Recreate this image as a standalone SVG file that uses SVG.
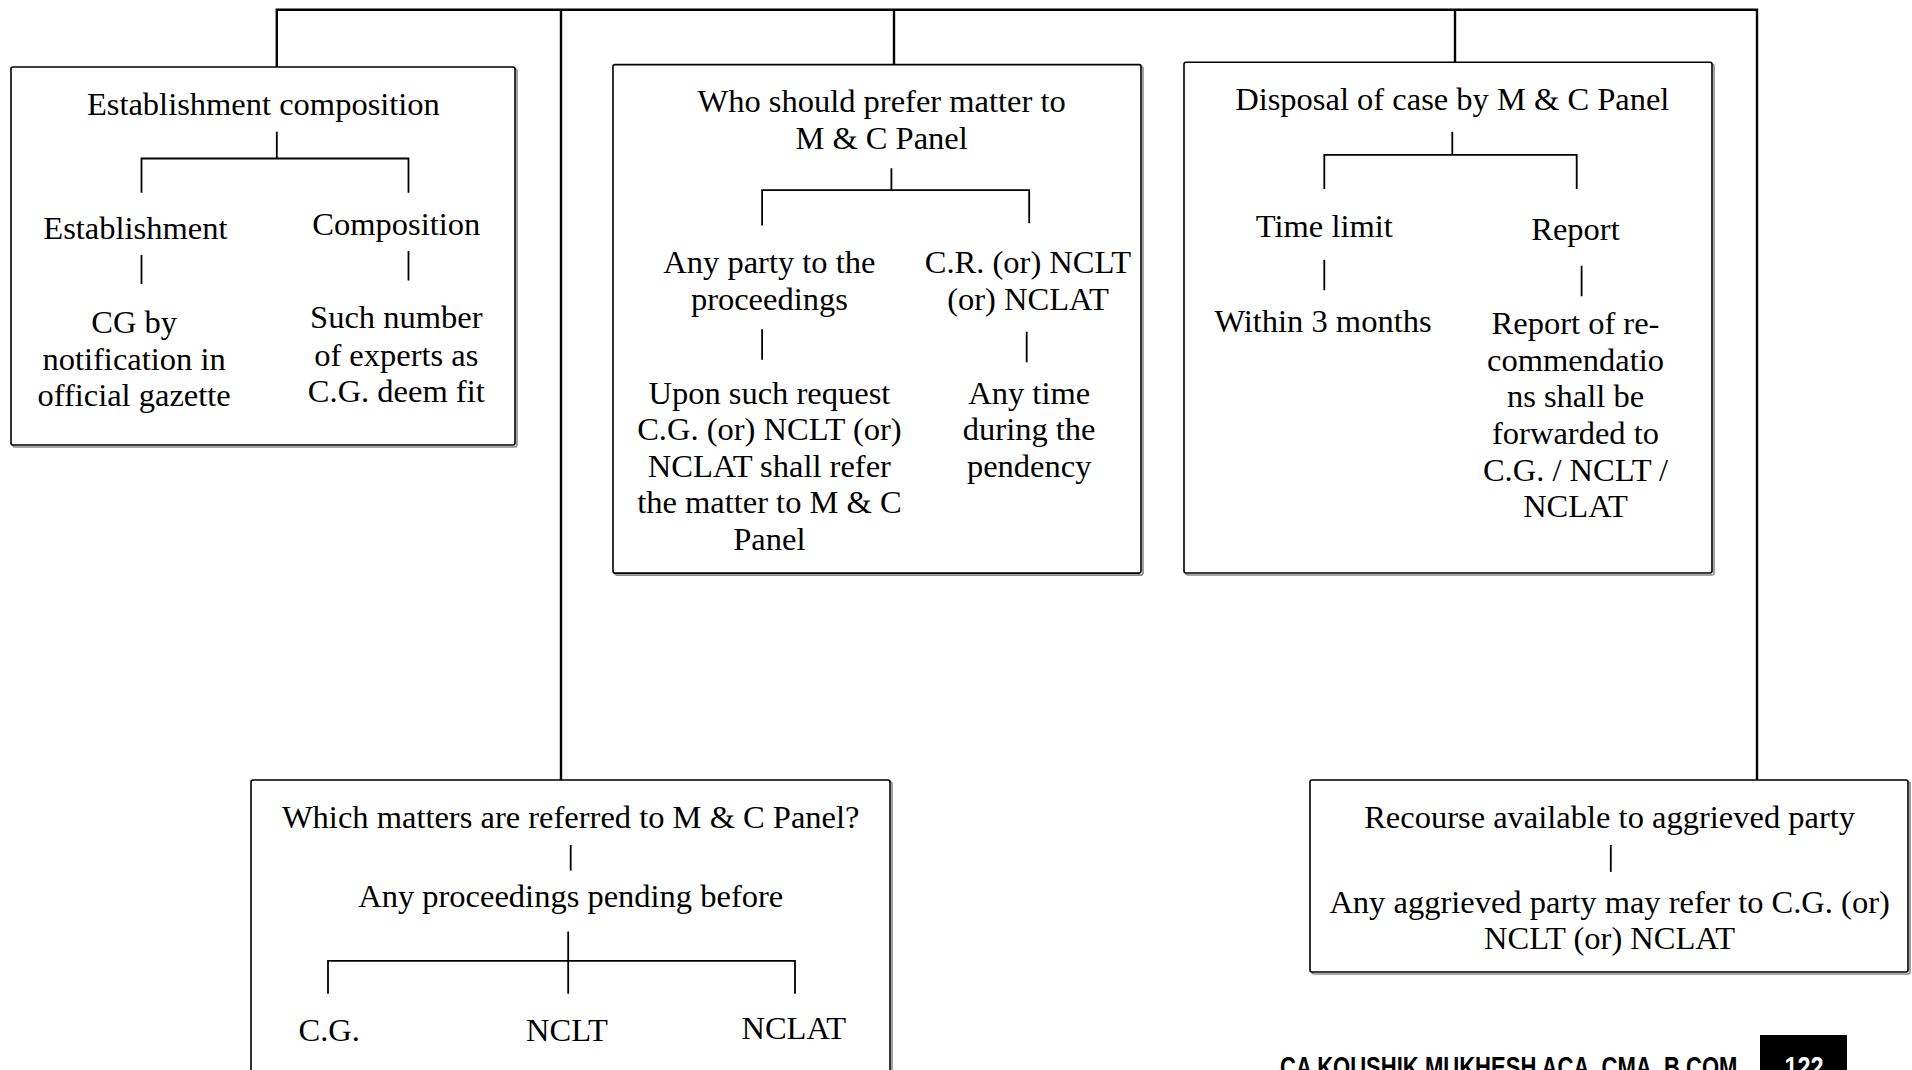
<svg xmlns="http://www.w3.org/2000/svg" width="1912" height="1070" viewBox="0 0 1912 1070">
  <style>
    .box { fill: #ffffff; stroke: #000000; stroke-width: 1.6; }
    .shadow { fill: none; stroke: #8a8a8a; stroke-width: 1.6; }
    .trunk { fill: none; stroke: #000000; stroke-width: 2.4; }
    .branch { fill: none; stroke: #000000; stroke-width: 1.8; }
    .t { font-family: "Liberation Serif", "Times New Roman", serif; font-size: 32.5px; fill: #000000; text-anchor: middle; }
    .footer { font-family: "Liberation Sans", Arial, sans-serif; font-weight: bold; font-size: 30px; fill: #000000; }
    .page { font-family: "Liberation Sans", Arial, sans-serif; font-weight: bold; font-size: 30px; fill: #ffffff; text-anchor: middle; }
  </style>

  <!-- connectors: top bus and drops into each panel -->
  <g id="connectors">
    <path class="trunk" d="M276.8,67 V9.8 H1757 V780"/>
    <path class="trunk" d="M561,9.8 V780"/>
    <path class="trunk" d="M894,9.8 V64.6"/>
    <path class="trunk" d="M1455,9.8 V62.2"/>
  </g>

  <!-- Establishment composition -->
  <g id="node-establishment">
    <rect class="shadow" x="13" y="69" width="504" height="378" rx="2"/>
    <rect class="box" x="11" y="67" width="504" height="378" rx="2"/>
    <text class="t" x="263.4" y="114.6">Establishment composition</text>
    <path class="branch" d="M276.8,131.7 V158.5 M141.5,192.7 V158.5 H408.5 V192.7"/>
    <text class="t" x="135.4" y="239">Establishment</text>
    <text class="t" x="396.3" y="235.4">Composition</text>
    <path class="branch" d="M141.5,254.9 V284 M408.5,251 V280.5"/>
    <text class="t" x="134.1" y="332.9">CG by</text>
    <text class="t" x="134.1" y="369.5">notification in</text>
    <text class="t" x="134.1" y="406.1">official gazette</text>
    <text class="t" x="396.3" y="328">Such number</text>
    <text class="t" x="396.3" y="365.8">of experts as</text>
    <text class="t" x="396.3" y="402.4">C.G. deem fit</text>
  </g>

  <!-- Who should prefer matter -->
  <g id="node-who-prefers">
    <rect class="shadow" x="615" y="66.6" width="528" height="508.5" rx="2"/>
    <rect class="box" x="613" y="64.6" width="528" height="508.5" rx="2"/>
    <text class="t" x="881.6" y="112.2">Who should prefer matter to</text>
    <text class="t" x="881.6" y="148.8">M &amp; C Panel</text>
    <path class="branch" d="M891.4,168.3 V190.2 M762.1,225.6 V190.2 H1029.2 V223.2"/>
    <text class="t" x="769.4" y="273.1">Any party to the</text>
    <text class="t" x="769.4" y="309.7">proceedings</text>
    <text class="t" x="1028" y="273.1">C.R. (or) NCLT</text>
    <text class="t" x="1028" y="309.7">(or) NCLAT</text>
    <path class="branch" d="M762.1,329.2 V359.7 M1026.7,331.7 V362.2"/>
    <text class="t" x="769.4" y="403.6">Upon such request</text>
    <text class="t" x="769.4" y="440.2">C.G. (or) NCLT (or)</text>
    <text class="t" x="769.4" y="476.8">NCLAT shall refer</text>
    <text class="t" x="769.4" y="513.3">the matter to M &amp; C</text>
    <text class="t" x="769.4" y="549.9">Panel</text>
    <text class="t" x="1029.2" y="403.6">Any time</text>
    <text class="t" x="1029.2" y="440.2">during the</text>
    <text class="t" x="1029.2" y="476.8">pendency</text>
  </g>

  <!-- Disposal of case -->
  <g id="node-disposal">
    <rect class="shadow" x="1186" y="64.2" width="528" height="510.8" rx="2"/>
    <rect class="box" x="1184" y="62.2" width="528" height="510.8" rx="2"/>
    <text class="t" x="1452.3" y="109.7">Disposal of case by M &amp; C Panel</text>
    <path class="branch" d="M1452.3,131.7 V154.9 M1324.3,189 V154.9 H1576.7 V189"/>
    <text class="t" x="1324.3" y="236.6">Time limit</text>
    <text class="t" x="1575.5" y="240.2">Report</text>
    <path class="branch" d="M1324.3,259.7 V290.2 M1581.6,265.8 V296.3"/>
    <text class="t" x="1323" y="331.7">Within 3 months</text>
    <text class="t" x="1575.5" y="334.1">Report of re-</text>
    <text class="t" x="1575.5" y="370.7">commendatio</text>
    <text class="t" x="1575.5" y="407.3">ns shall be</text>
    <text class="t" x="1575.5" y="443.9">forwarded to</text>
    <text class="t" x="1575.5" y="480.5">C.G. / NCLT /</text>
    <text class="t" x="1575.5" y="517">NCLAT</text>
  </g>

  <!-- Which matters are referred -->
  <g id="node-matters">
    <rect class="shadow" x="253" y="782" width="639" height="320" rx="2"/>
    <rect class="box" x="251" y="780" width="639" height="320" rx="2"/>
    <text class="t" x="570.7" y="828">Which matters are referred to M &amp; C Panel?</text>
    <path class="branch" d="M570.7,845 V870.6"/>
    <text class="t" x="570.7" y="907.2">Any proceedings pending before</text>
    <path class="branch" d="M568.2,931.6 V993.8 M328,993.8 V960.9 H795 V993.8"/>
    <text class="t" x="329.2" y="1041.3">C.G.</text>
    <text class="t" x="567" y="1041.3">NCLT</text>
    <text class="t" x="793.8" y="1038.9">NCLAT</text>
  </g>

  <!-- Recourse available -->
  <g id="node-recourse">
    <rect class="shadow" x="1312" y="782" width="598" height="192" rx="2"/>
    <rect class="box" x="1310" y="780" width="598" height="192" rx="2"/>
    <text class="t" x="1609.6" y="828">Recourse available to aggrieved party</text>
    <path class="branch" d="M1610.8,845 V871.9"/>
    <text class="t" x="1609.6" y="913.3">Any aggrieved party may refer to C.G. (or)</text>
    <text class="t" x="1609.6" y="948.7">NCLT (or) NCLAT</text>
  </g>

  <!-- page footer: condensed author line and page number tab -->
  <g id="footer">
    <text class="footer" transform="translate(1280,1077) scale(0.735,1)" x="0" y="0">CA KOUSHIK MUKHESH ACA, CMA, B.COM</text>
    <rect x="1760" y="1035" width="87" height="40" fill="#000000"/>
    <text class="page" transform="translate(1804,1077) scale(0.78,1)" x="0" y="0">122</text>
  </g>
</svg>
